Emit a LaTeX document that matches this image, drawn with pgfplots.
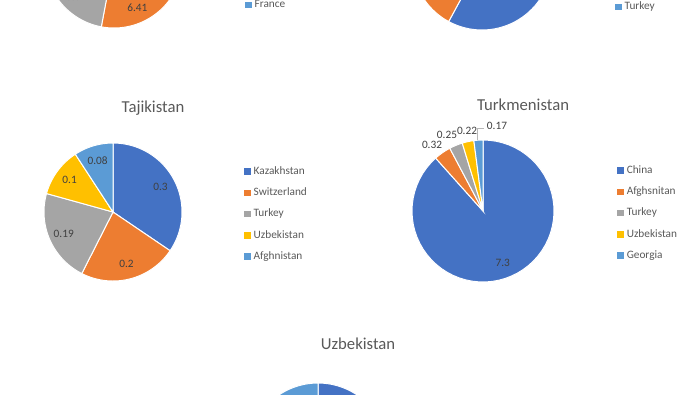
\documentclass[border=0pt]{standalone}
\usepackage{fontspec}
\setmainfont{Carlito}
\usepackage{pgfplots}
\pgfplotsset{compat=1.18}
\definecolor{cBlue}{HTML}{4472C4}
\definecolor{cOrange}{HTML}{ED7D31}
\definecolor{cGray}{HTML}{A5A5A5}
\definecolor{cYellow}{HTML}{FFC000}
\definecolor{cLBlue}{HTML}{5B9BD5}
\definecolor{legtxt}{HTML}{595959}
\definecolor{lbltxt}{HTML}{404040}
\newcommand{\lgfont}{\fontsize{11.3}{13}\selectfont}
\newcommand{\ttfont}{\fontsize{16.7}{20}\selectfont}
\tikzset{lbl/.style={font=\lgfont, text=lbltxt, inner sep=0pt}}
\pgfplotsset{piestyle/.style={scale only axis, hide axis, clip=false,
  xmin=-1,xmax=1,ymin=-1,ymax=1, anchor=center,
  legend image code/.code={\fill[##1, draw=none] (0pt,-3.2pt) rectangle (6.5pt,3.2pt);},
  legend style={draw=none, fill=none, inner sep=0pt, anchor=west, font=\lgfont, text=legtxt,
    row sep=10.75pt, column sep=3pt, nodes={inner sep=0pt, text height=8pt, text depth=2.5pt},
    cells={anchor=west}},
  title style={font=\ttfont, text=legtxt, anchor=center, yshift=0pt}}}
% #1 colour, #2 cumulative start, #3 cumulative end, #4 total, #5 label, #6 legend entry
\newcommand{\slice}[6]{%
  \pgfmathsetmacro{\thA}{90-360*(#3)/(#4)}%
  \pgfmathsetmacro{\thB}{90-360*(#2)/(#4)}%
  \pgfmathsetmacro{\thM}{(\thA+\thB)/2}%
  \pgfmathsetmacro{\lx}{0.78*cos(\thM)}%
  \pgfmathsetmacro{\ly}{0.78*sin(\thM)}%
  \edef\doslice{\noexpand\addplot[fill=#1, draw=white, line width=1pt, domain=\thA:\thB, samples=60] ({cos(x)},{sin(x)}) -- (axis cs:0,0) -- cycle;}%
  \doslice
  \addlegendentry{#6}%
  \edef\dolabel{\noexpand\node[lbl] at (axis cs:\lx,\ly) {#5};}%
  \dolabel
}
\begin{document}
\begin{tikzpicture}
\useasboundingbox (0pt,0pt) rectangle (700pt,-394pt);
\clip (0pt,0pt) rectangle (700pt,-394pt);
% Kazakhstan (top left, cut off)
\begin{axis}[piestyle, at={(114pt,41pt)}, width=138pt, height=138pt,
  title={Kazakhstan}, title style={at={(0.79,1.21)}},
  legend style={at={(1.449,0.475)}}]
\slice{cBlue}{0}{10.4}{31.75}{10.4}{Italy}
\slice{cOrange}{10.4}{16.81}{31.75}{6.41}{China}
\slice{cGray}{16.81}{22.85}{31.75}{6.04}{Russia}
\slice{cYellow}{22.85}{27.85}{31.75}{5}{Netherlands}
\slice{cLBlue}{27.85}{31.75}{31.75}{3.9}{France}
\end{axis}
% Kyrgyzstan (top right, cut off)
\begin{axis}[piestyle, at={(482pt,40pt)}, width=140pt, height=140pt,
  title={Kyrgyzstan}, title style={at={(0.78,1.21)}},
  legend style={at={(1.45,0.468)}}]
\slice{cBlue}{0}{1.1}{1.9}{1.1}{United Kingdom}
\slice{cOrange}{1.1}{1.45}{1.9}{0.35}{Russia}
\slice{cGray}{1.45}{1.65}{1.9}{0.2}{Kazakhstan}
\slice{cYellow}{1.65}{1.8}{1.9}{0.15}{Uzbekistan}
\slice{cLBlue}{1.8}{1.9}{1.9}{0.1}{Turkey}
\end{axis}
% Tajikistan
\begin{axis}[piestyle, at={(113pt,-212pt)}, width=138pt, height=138pt,
  title={Tajikistan}, title style={at={(0.79,1.206)}},
  legend style={at={(1.449,0.485)}}]
\slice{cBlue}{0}{0.3}{0.87}{0.3}{Kazakhstan}
\slice{cOrange}{0.3}{0.5}{0.87}{0.2}{Switzerland}
\slice{cGray}{0.5}{0.69}{0.87}{0.19}{Turkey}
\slice{cYellow}{0.69}{0.79}{0.87}{0.1}{Uzbekistan}
\slice{cLBlue}{0.79}{0.87}{0.87}{0.08}{Afghnistan}
\end{axis}
% Turkmenistan
\begin{axis}[piestyle, at={(483pt,-211pt)}, width=142pt, height=142pt,
  title={Turkmenistan}, title style={at={(0.782,1.205)}},
  legend style={at={(1.444,0.485)}}]
\slice{cBlue}{0}{7.3}{8.26}{7.3}{China}
\slice{cOrange}{7.3}{7.62}{8.26}{}{Afghsnitan}
\slice{cGray}{7.62}{7.87}{8.26}{}{Turkey}
\slice{cYellow}{7.87}{8.09}{8.26}{}{Uzbekistan}
\slice{cLBlue}{8.09}{8.26}{8.26}{}{Georgia}
\node[lbl] at (axis cs:-0.718,0.930) {0.32};
\node[lbl] at (axis cs:-0.507,1.070) {0.25};
\node[lbl] at (axis cs:-0.225,1.127) {0.22};
\node[lbl] at (axis cs:0.197,1.197) {0.17};
\draw[color=cGray!80, line width=0.6pt] (axis cs:-0.075,1.0) -- (axis cs:-0.075,1.169) -- (axis cs:0.02,1.169);
\end{axis}
% Uzbekistan (bottom, cut off)
\begin{axis}[piestyle, at={(318pt,-453pt)}, width=140pt, height=140pt,
  title={Uzbekistan}, title style={at={(0.786,1.236)}},
  legend style={at={(1.45,0.5)}}]
\slice{cBlue}{0}{2.1}{7.8}{2.1}{Russia}
\slice{cOrange}{2.1}{4.0}{7.8}{1.9}{China}
\slice{cGray}{4.0}{5.5}{7.8}{1.5}{Kazakhstan}
\slice{cYellow}{5.5}{6.9}{7.8}{1.4}{Turkey}
\slice{cLBlue}{6.9}{7.8}{7.8}{0.9}{Afghanistan}
\end{axis}
\end{tikzpicture}
\end{document}
